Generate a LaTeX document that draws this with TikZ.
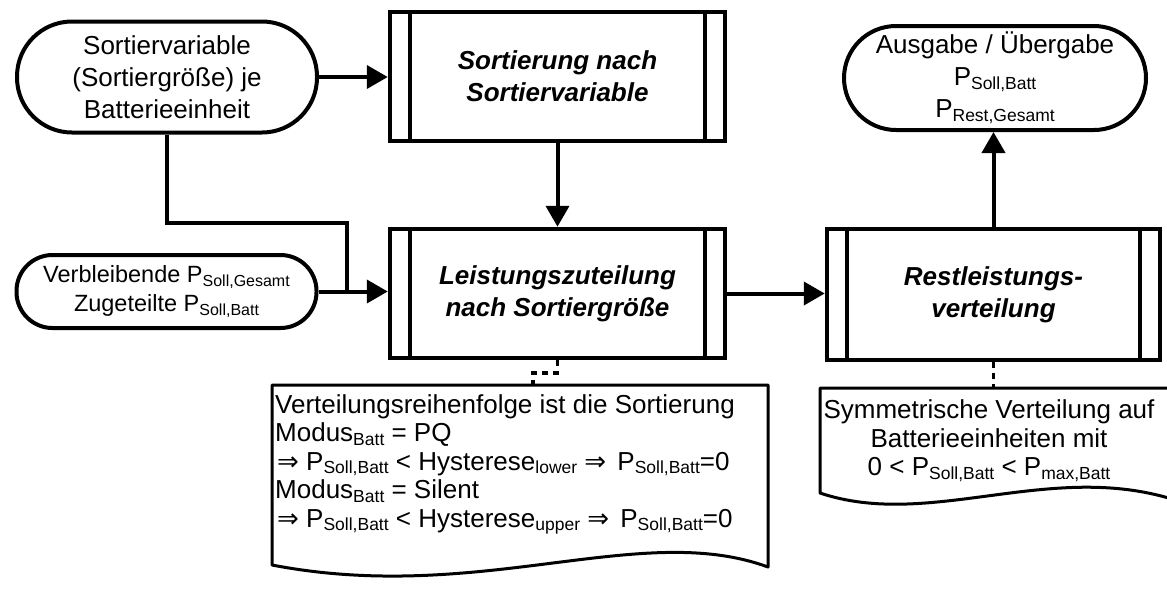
\documentclass[tikz,border=0pt]{standalone}
\usepackage{fontspec}
\setmainfont{Liberation Sans}
\newfontfamily\symfont{DejaVu Sans}
\usetikzlibrary{arrows.meta,calc}
\newcommand\lsub[1]{\raisebox{-0.15em}{\fontsize{17.5}{17.5}\selectfont #1}}
\newcommand\ssub[1]{\raisebox{-0.15em}{\fontsize{16}{16}\selectfont #1}}
\begin{document}
\begin{tikzpicture}[x=1pt,y=-1pt,
  term/.style={draw, line width=4pt, align=center, inner sep=0pt,
    font=\fontsize{26}{32}\selectfont, rounded corners=#1},
  term/.default=50pt,
  proc/.style={draw, line width=4.5pt, align=center, inner sep=0pt,
    minimum width=335pt, minimum height=129pt,
    font=\bfseries\itshape\fontsize{26}{32}\selectfont},
  bar/.style={line width=4pt},
  conn/.style={line width=4pt},
  arr/.style={line width=4pt, -{Triangle[length=21pt,width=23pt]}},
  note/.style={line width=3.5pt, dash pattern=on 6pt off 5pt},
  docshape/.style={line width=3pt, line join=round},
  doctext/.style={inner sep=0pt, font=\fontsize{26}{28.5}\selectfont}
]
\useasboundingbox (0,0) rectangle (1167,590);

% terminals
\node[term=55pt, minimum width=300pt, minimum height=111pt] (t1) at (167,77)
  {Sortiervariable\\(Sortiergröße) je\\Batterieeinheit};
\node[term=36pt, minimum width=300pt, minimum height=73pt,
  font=\fontsize{23.5}{29}\selectfont] (t2) at (166.5,291.5)
  {Verbleibende P\ssub{Soll,Gesamt}\\Zugeteilte P\ssub{Soll,Batt}};
\node[term=52pt, minimum width=302pt, minimum height=104pt] (t3) at (995,78)
  {Ausgabe / Übergabe\\P\lsub{Soll,Batt}\\P\lsub{Rest,Gesamt}};

% processes
\node[proc] (p1) at (557.5,76.5) {Sortierung nach\\Sortiervariable};
\node[proc] (p2) at (557.5,293.5) {Leistungszuteilung\\nach Sortiergröße};
\node[proc, minimum width=333pt, minimum height=131pt] (p3) at (993.5,294.5)
  {Restleistungs-\\verteilung};
\foreach \n in {p1,p2,p3}{
  \draw[bar] ([xshift=22pt]\n.north west) -- ([xshift=22pt]\n.south west);
  \draw[bar] ([xshift=-22pt]\n.north east) -- ([xshift=-22pt]\n.south east);
}

% documents
\coordinate (d1nw) at (272,385);
\coordinate (d1ne) at (768,385);
\draw[docshape] (d1nw) -- (d1ne) -- (768,567)
  .. controls (640,520) and (480,605) .. (272,565) -- cycle;
\node[doctext, anchor=north west, align=left] (n1) at (275,394)
  {Verteilungsreihenfolge ist die Sortierung\\
   Modus\lsub{Batt} = PQ\\
   \hspace{2pt}{\symfont ⇒} P\lsub{Soll,Batt} < Hysterese\lsub{lower} {\symfont ⇒}\hspace{4pt} P\lsub{Soll,Batt}=0\\
   Modus\lsub{Batt} = Silent\\
   \hspace{2pt}{\symfont ⇒} P\lsub{Soll,Batt} < Hysterese\lsub{upper} {\symfont ⇒}\hspace{4pt} P\lsub{Soll,Batt}=0};

\coordinate (d2nw) at (820,388);
\coordinate (d2ne) at (1175,388);
\draw[docshape] (d2nw) -- (d2ne) -- (1175,500)
  .. controls (1050,460) and (930,530) .. (820,493) -- cycle;
\node[doctext, align=center] (n2) at (989,441)
  {Symmetrische Verteilung auf\\Batterieeinheiten mit\\0 < P\lsub{Soll,Batt} < P\lsub{max,Batt}};

% connectors
\draw[arr] (t1.east) -- (t1.east -| p1.west);
\draw[arr] (p1.south) -- (p2.north);
\coordinate (bend) at (347,223);
\draw[conn] (t1.south) |- (bend) -- (bend |- t2.east);
\draw[arr] (t2.east) -- (t2.east -| p2.west);
\draw[arr] (p2.east) -- (p2.east -| p3.west);
\draw[arr] (p3.north) -- (p3.north |- t3.south);
\coordinate (k1) at (533,373);
\draw[note] (p2.south) |- (k1) -- (k1 |- d1nw);
\draw[note] (p3.south) -- (p3.south |- d2nw);
\end{tikzpicture}
\end{document}
